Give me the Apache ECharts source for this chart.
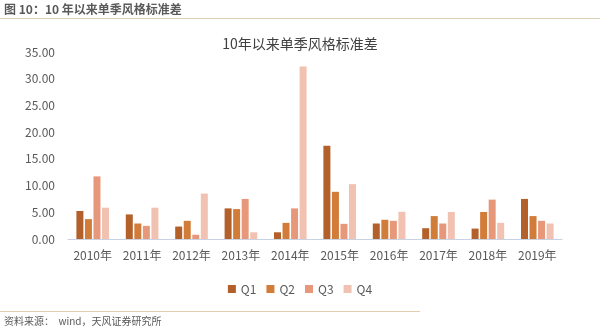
<!DOCTYPE html>
<html><head><meta charset="utf-8">
<script src="https://cdn.jsdelivr.net/npm/echarts@6/dist/echarts.min.js"></script>
<style>html,body{margin:0;padding:0;background:#fff}#c{width:600px;height:332px}</style>
</head><body><div id="c"></div>
<script>
const categories = ['2010年','2011年','2012年','2013年','2014年','2015年','2016年','2017年','2018年','2019年'];
const seriesNames = ['Q1','Q2','Q3','Q4'];
const q1 = [5.24, 4.60, 2.33, 5.73, 1.26, 17.45, 2.90, 2.02, 1.95, 7.50];
const q2 = [3.72, 2.90, 3.40, 5.60, 3.02, 8.83, 3.60, 4.29, 5.06, 4.29];
const q3 = [11.72, 2.46, 0.80, 7.50, 5.73, 2.84, 3.40, 2.90, 7.37, 3.40];
const q4 = [5.86, 5.86, 8.50, 1.26, 32.27, 10.27, 5.10, 5.06, 3.02, 2.90];
const yTicks = [0, 5, 10, 15, 20, 25, 30, 35];
const colors = ['#B4602A', '#D27C3A', '#E8987A', '#F1C2B1'];
const FONT = '"Noto Sans CJK SC", "Noto Sans", sans-serif';
const values = [q1, q2, q3, q4];

const chart = echarts.init(document.getElementById('c'), null, {renderer: 'canvas'});
chart.setOption({
  animation: false,
  backgroundColor: '#ffffff',
  color: colors,
  textStyle: {fontFamily: FONT},
  title: {
    text: '10年以来单季风格标准差',
    left: 'center', top: 32,
    textStyle: {fontSize: 14, fontWeight: 'normal', color: '#404040', fontFamily: FONT}
  },
  legend: {
    data: seriesNames,
    left: 'center', top: 278,
    itemWidth: 8, itemHeight: 8, itemGap: 10,
    icon: 'rect',
    textStyle: {fontSize: 12, color: '#595959', fontFamily: FONT}
  },
  grid: {left: 68, right: 38, top: 52, bottom: 93},
  xAxis: {
    type: 'category',
    data: categories,
    axisLine: {lineStyle: {color: '#c9d2e3'}},
    axisTick: {show: false},
    axisLabel: {interval: 0, fontSize: 12, color: '#595959', margin: 10, fontFamily: FONT}
  },
  yAxis: {
    type: 'value',
    min: yTicks[0], max: yTicks[yTicks.length - 1], interval: 5,
    axisLine: {show: false},
    axisTick: {show: false},
    splitLine: {show: false},
    axisLabel: {fontSize: 12, color: '#595959', margin: 13, fontFamily: FONT,
      formatter: v => v.toFixed(2)}
  },
  series: seriesNames.map((n, i) => ({
    name: n, type: 'bar', data: values[i],
    barWidth: 7, barGap: '22%',
    itemStyle: {color: colors[i]}
  })),
  graphic: [
    {type: 'text', left: 4, top: 3, style: {text: '图 10：10 年以来单季风格标准差', font: 'bold 12px ' + FONT, fill: '#595959'}},
    {type: 'rect', shape: {x: 0, y: 18, width: 600, height: 1}, style: {fill: '#d9cfb2'}},
    {type: 'rect', shape: {x: 0, y: 311, width: 420, height: 1}, style: {fill: '#e3cdb0'}},
    {type: 'text', left: 4, top: 316, style: {text: '资料来源：  wind，天风证券研究所', font: '10px ' + FONT, fill: '#595959'}}
  ]
});
</script></body></html>
